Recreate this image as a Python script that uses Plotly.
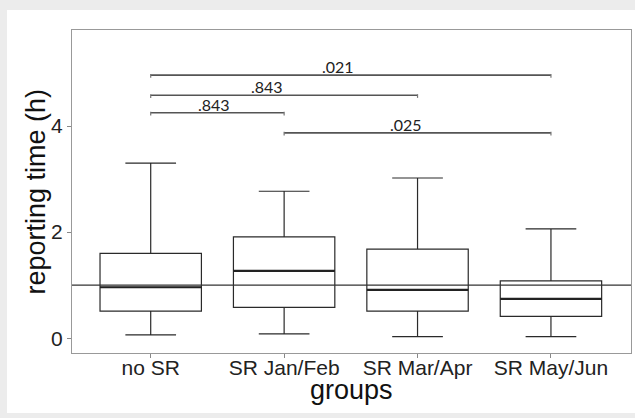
import plotly.graph_objects as go

groups = ["no SR", "SR Jan/Feb", "SR Mar/Apr", "SR May/Jun"]
q1 = [0.51, 0.58, 0.51, 0.41]
median = [0.96, 1.27, 0.91, 0.74]
q3 = [1.60, 1.91, 1.68, 1.08]
lower = [0.06, 0.08, 0.03, 0.03]
upper = [3.30, 2.77, 3.02, 2.06]
ref_line = 1.0

# significance comparisons: (from group index, to group index, height, label)
sig_from = [0, 0, 0, 1]
sig_to = [3, 2, 1, 3]
sig_y = [4.96, 4.58, 4.25, 3.87]
sig_lbl = [".021", ".843", ".843", ".025"]
sig_xshift = [-13, -17, -3, -12]

box_w = 0.76

fig = go.Figure()
fig.add_trace(go.Box(
    x=list(range(len(groups))), q1=q1, median=median, q3=q3,
    lowerfence=lower, upperfence=upper,
    fillcolor="rgba(255,255,255,0)", line=dict(color="#2a2a2a", width=1.2),
    width=box_w, boxpoints=False, showlegend=False, hoverinfo="skip",
))

shapes = []
# white page region inside the grey frame
shapes.append(dict(type="rect", xref="paper", yref="paper", x0=-0.1163, x1=1.05,
                   y0=-0.186, y1=1.062, fillcolor="white", line_width=0, layer="below"))
# thicker medians
for i, m in enumerate(median):
    shapes.append(dict(type="line", xref="x", yref="y", x0=i - box_w / 2, x1=i + box_w / 2,
                       y0=m, y1=m, line=dict(color="#222222", width=2.2)))
# reference line
shapes.append(dict(type="line", xref="paper", yref="y", x0=0, x1=1, y0=ref_line, y1=ref_line,
                   line=dict(color="#333333", width=1.2)))
annotations = []
for a, b, h, t, xs in zip(sig_from, sig_to, sig_y, sig_lbl, sig_xshift):
    shapes.append(dict(type="line", xref="x", yref="y", x0=a, x1=b, y0=h, y1=h,
                       line=dict(color="#555555", width=1.6)))
    for e in (a, b):
        shapes.append(dict(type="line", xref="x", yref="y", x0=e, x1=e, y0=h - 0.05, y1=h + 0.02,
                           line=dict(color="#777777", width=1.2)))
    annotations.append(dict(x=(a + b) / 2, y=h, xref="x", yref="y", text=t, showarrow=False,
                            yanchor="bottom", xshift=xs, yshift=-3,
                            font=dict(family="Lato, Noto Sans", size=16, color="#222222")))

# axis titles
annotations.append(dict(x=0, y=0.5, xref="paper", yref="paper", text="reporting time (h)",
                        textangle=-90, showarrow=False, xanchor="center", yanchor="middle",
                        xshift=-37, font=dict(size=27, color="#111111")))
annotations.append(dict(x=0.5, y=0, xref="paper", yref="paper", text="groups",
                        showarrow=False, xanchor="center", yanchor="middle",
                        yshift=-37, font=dict(size=27, color="#111111")))

fig.update_layout(
    width=635, height=418,
    margin=dict(l=72, r=4, t=30, b=65),
    paper_bgcolor="#ececec", plot_bgcolor="white",
    shapes=shapes, annotations=annotations,
    font=dict(family="Liberation Sans, Arial", color="#222222"),
)
fig.update_xaxes(
    range=[-0.59, 3.6], tickmode="array", tickvals=list(range(len(groups))), ticktext=groups,
    tickfont=dict(size=21, color="#222222"), ticks="outside", ticklen=4, tickcolor="#888888",
    ticklabelstandoff=-8,
    showline=True, linecolor="#999999", linewidth=1, mirror=True, showgrid=False, zeroline=False,
    automargin=False,
)
fig.update_yaxes(
    range=[-0.28, 5.81], tickvals=[0, 2, 4], tickfont=dict(size=21, color="#222222"),
    ticks="outside", ticklen=4, tickcolor="#888888",
    showline=True, linecolor="#999999", linewidth=1, mirror=True, showgrid=False, zeroline=False,
    automargin=False,
)
fig.write_html("out.html", config={"displayModeBar": False},
               post_script="document.body.style.margin='0';document.body.style.overflow='hidden';")
